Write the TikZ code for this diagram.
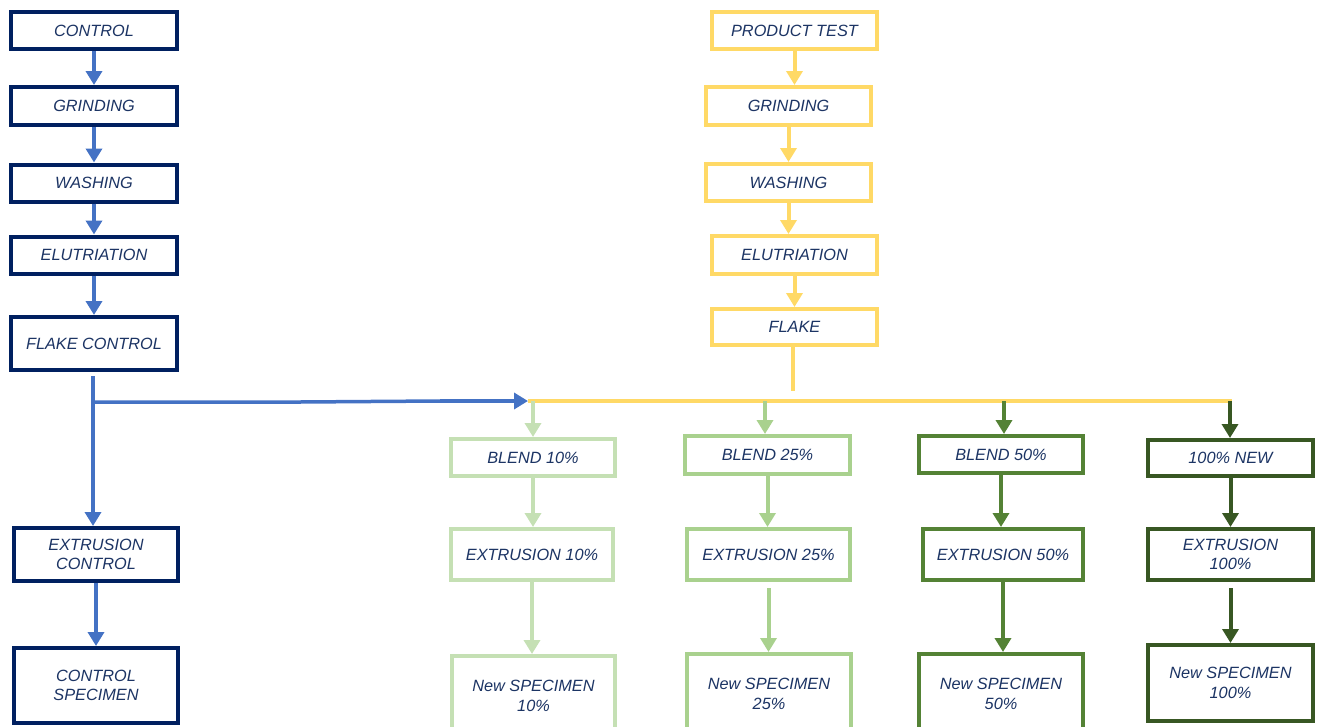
\documentclass[tikz,border=0pt]{standalone}
\usepackage{fontspec}
\setmainfont{Liberation Sans}
\usetikzlibrary{arrows.meta}
\definecolor{navyline}{HTML}{002060}
\definecolor{bluearrow}{HTML}{4472C4}
\definecolor{yellowline}{HTML}{FFD966}
\definecolor{greenA}{HTML}{C5E0B4}
\definecolor{greenB}{HTML}{A9D18E}
\definecolor{greenC}{HTML}{548235}
\definecolor{greenD}{HTML}{385723}
\definecolor{textblue}{HTML}{1C3464}
\tikzset{
  stage/.style={draw, line width=4pt, fill=white, align=center, inner sep=0pt,
    text=textblue, font=\itshape\fontsize{16.3}{19.5}\selectfont},
  flow/.style={line width=4pt, -{Triangle[width=16pt,length=14pt]}},
}
\begin{document}
\begin{tikzpicture}[x=1pt,y=-1pt]
\useasboundingbox (0,0) rectangle (1318,726);
% control line
\node[stage, draw=navyline, minimum width=166pt, minimum height=37pt] (ctrl) at (94,30.5) {CONTROL};
\node[stage, draw=navyline, minimum width=166pt, minimum height=38pt] (grindL) at (94,106) {GRINDING};
\node[stage, draw=navyline, minimum width=166pt, minimum height=37pt] (washL) at (94,183) {WASHING};
\node[stage, draw=navyline, minimum width=166pt, minimum height=37pt] (elutL) at (94,255) {ELUTRIATION};
\node[stage, draw=navyline, minimum width=166pt, minimum height=53pt] (flakeL) at (94,343.5) {FLAKE CONTROL};
\node[stage, draw=navyline, minimum width=164pt, minimum height=53pt] (extL) at (96,554.5) {EXTRUSION\\CONTROL};
\node[stage, draw=navyline, minimum width=164pt, minimum height=75pt] (specL) at (96,685.5) {CONTROL\\SPECIMEN};
\draw[flow, bluearrow] (ctrl.south) -- (grindL.north);
\draw[flow, bluearrow] (grindL.south) -- (washL.north);
\draw[flow, bluearrow] (washL.south) -- (elutL.north);
\draw[flow, bluearrow] (elutL.south) -- (flakeL.north);
\coordinate (trunk) at (93,376);
\coordinate (branch) at (93,402);
\coordinate (join) at (528,401);
\draw[flow, bluearrow] (trunk) -- (trunk |- extL.north);
\draw[flow, bluearrow] (extL.south) -- (specL.north);
% product test line
\node[stage, draw=yellowline, minimum width=165pt, minimum height=37pt] (prod) at (794.5,30.5) {PRODUCT TEST};
\node[stage, draw=yellowline, minimum width=165pt, minimum height=38pt] (grindR) at (788.5,106) {GRINDING};
\node[stage, draw=yellowline, minimum width=165pt, minimum height=37pt] (washR) at (788.5,182.5) {WASHING};
\node[stage, draw=yellowline, minimum width=165pt, minimum height=38pt] (elutR) at (794.5,255) {ELUTRIATION};
\node[stage, draw=yellowline, minimum width=165pt, minimum height=36pt] (flakeR) at (794.5,327) {FLAKE};
\draw[flow, yellowline] (prod.south) -- (prod.south |- grindR.north);
\draw[flow, yellowline] (grindR.south) -- (grindR.south |- washR.north);
\draw[flow, yellowline] (washR.south) -- (washR.south |- elutR.north);
\draw[flow, yellowline] (elutR.south) -- (elutR.south |- flakeR.north);
\coordinate (flakeEnd) at (793,391);
\draw[yellowline, line width=4pt] (flakeR.south -| flakeEnd) -- (flakeEnd);
\coordinate (j10) at (533,401);
\coordinate (j25) at (765,401);
\coordinate (j50) at (1004,401);
\coordinate (j100) at (1230,401);
\draw[yellowline, line width=4pt] (join) -- (1232,401);
\draw[bluearrow, line width=3.5pt] (trunk |- branch) -- (300,402) -- (440,401);
\draw[flow, bluearrow] (440,401) -- (join);
% blends
\node[stage, draw=greenA, minimum width=164pt, minimum height=37pt] (b10) at (533,457.5) {BLEND 10\%};
\node[stage, draw=greenA, minimum width=162pt, minimum height=51pt] (e10) at (532,554.5) {EXTRUSION 10\%};
\node[stage, draw=greenA, minimum width=163pt, minimum height=80pt] (s10) at (533.5,696) {New SPECIMEN\\10\%};
\node[stage, draw=greenB, minimum width=165pt, minimum height=38pt] (b25) at (767.5,455) {BLEND 25\%};
\node[stage, draw=greenB, minimum width=163pt, minimum height=51pt] (e25) at (768.5,554.5) {EXTRUSION 25\%};
\node[stage, draw=greenB, minimum width=164pt, minimum height=80pt] (s25) at (769,694) {New SPECIMEN\\25\%};
\node[stage, draw=greenC, minimum width=164pt, minimum height=37pt] (b50) at (1001,454.5) {BLEND 50\%};
\node[stage, draw=greenC, minimum width=160pt, minimum height=51pt] (e50) at (1003,554.5) {EXTRUSION 50\%};
\node[stage, draw=greenC, minimum width=164pt, minimum height=80pt] (s50) at (1001,694) {New SPECIMEN\\50\%};
\node[stage, draw=greenD, minimum width=165pt, minimum height=36pt] (b100) at (1230.5,458) {100\% NEW};
\node[stage, draw=greenD, minimum width=165pt, minimum height=51pt] (e100) at (1230.5,554.5) {EXTRUSION\\100\%};
\node[stage, draw=greenD, minimum width=165pt, minimum height=76pt] (s100) at (1230.5,683) {New SPECIMEN\\100\%};
\draw[flow, greenA] (j10) -- (j10 |- b10.north);
\draw[flow, greenA] (b10.south) -- (b10.south |- e10.north);
\draw[flow, greenA] (e10.south) -- (e10.south |- s10.north);
\draw[flow, greenB] (j25) -- (j25 |- b25.north);
\draw[flow, greenB] (b25.south) -- (b25.south |- e25.north);
\draw[flow, greenB] ([yshift=-6pt]e25.south) -- (e25.south |- s25.north);
\draw[flow, greenC] (j50) -- (j50 |- b50.north);
\draw[flow, greenC] (b50.south) -- (b50.south |- e50.north);
\draw[flow, greenC] (e50.south) -- (e50.south |- s50.north);
\draw[flow, greenD] (j100) -- (j100 |- b100.north);
\draw[flow, greenD] (b100.south) -- (b100.south |- e100.north);
\draw[flow, greenD] ([yshift=-6pt]e100.south) -- (e100.south |- s100.north);
\end{tikzpicture}
\end{document}
